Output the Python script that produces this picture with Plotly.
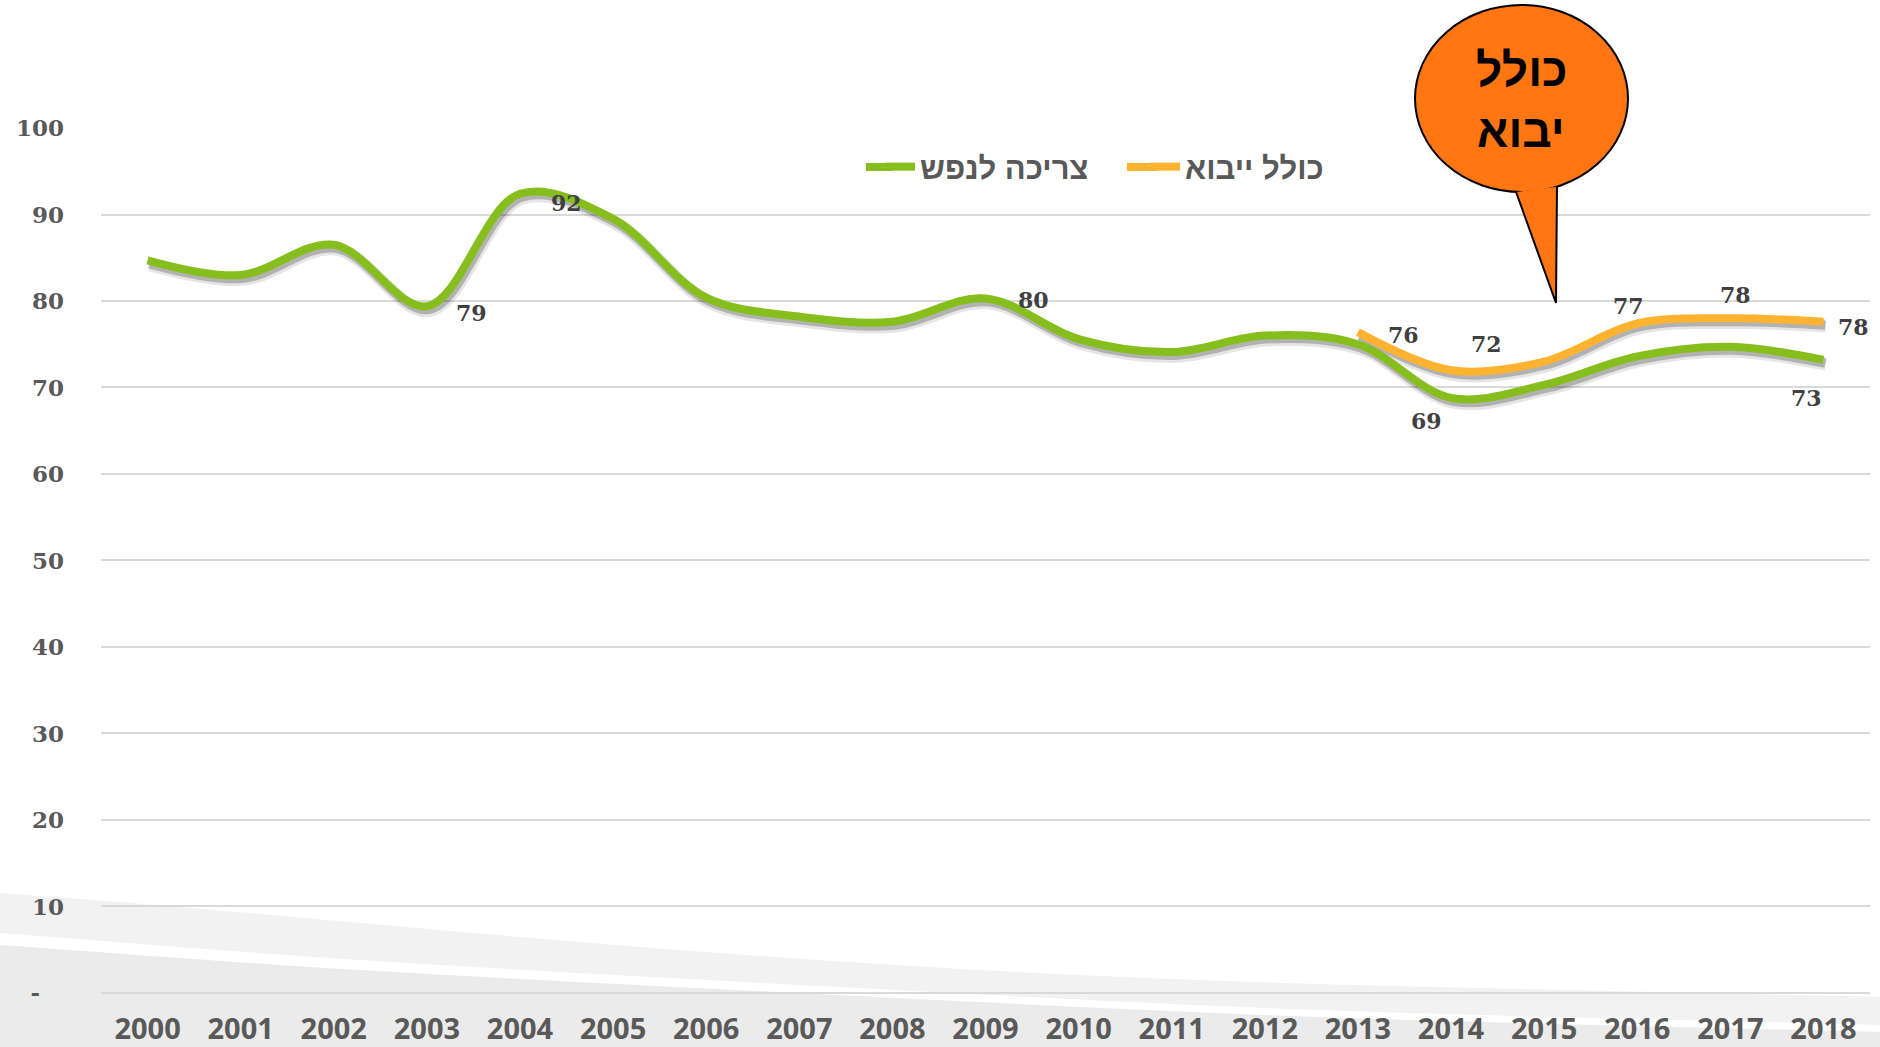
import numpy as np
import plotly.graph_objects as go

# ---------------- data ----------------
years = list(range(2000, 2019))
per_capita = [84.7, 83.0, 86.5, 79.4, 92.4, 89.5, 80.4, 78.2, 77.6, 80.3,
              75.6, 74.1, 76.0, 75.0, 68.8, 70.3, 73.6, 74.7, 73.2]
incl_years = list(range(2013, 2019))
incl_import = [76.4, 72.0, 73.0, 77.4, 78.0, 77.6]

name_green = "צריכה לנפש"
name_orange = "כולל ייבוא"
callout_lines = ["כולל", "יבוא"]

y_tickvals = list(range(0, 101, 10))
y_ticktext = ["-\u00a0\u00a0\u00a0"] + [str(v) for v in y_tickvals[1:]]

# which points are labelled, with label offsets (px)
green_labels = {2003: (45, -7), 2004: (47, -9), 2009: (48, -2), 2014: (-25, -23), 2018: (-17, -38)}
orange_labels = {2013: (46, -3), 2014: (35, 26), 2016: (-9, 17), 2017: (5, 23), 2018: (30, -5)}

GREEN = "#86BE1E"
ORANGE = "#FDB230"
CALLOUT = "#FF7612"

W, H = 1880, 1047
ML, MR, MT, MB = 101, 10, 128, 53


def px(x):
    return (x - ML) / (W - ML - MR)


def py(y):
    return (H - MB - y) / (H - MT - MB)


def smooth_path(points, bottom=1060, left=-10, right=1895):
    pts = np.array(points, dtype=float)
    P = np.vstack([pts[0] * 2 - pts[1], pts, pts[-1] * 2 - pts[-2]])
    out = []
    for i in range(1, len(P) - 2):
        p0, p1, p2, p3 = P[i - 1], P[i], P[i + 1], P[i + 2]
        for t in np.linspace(0, 1, 12, endpoint=False):
            t2, t3 = t * t, t * t * t
            pt = 0.5 * ((2 * p1) + (-p0 + p2) * t + (2 * p0 - 5 * p1 + 4 * p2 - p3) * t2 + (-p0 + 3 * p1 - 3 * p2 + p3) * t3)
            out.append(pt)
    out.append(P[-2])
    d = "M {:.5f},{:.5f} ".format(px(left), py(out[0][1]))
    for p in out:
        d += "L {:.5f},{:.5f} ".format(px(p[0]), py(p[1]))
    d += "L {:.5f},{:.5f} ".format(px(right), py(out[-1][1]))
    d += "L {:.5f},{:.5f} L {:.5f},{:.5f} Z".format(px(right), py(bottom), px(left), py(bottom))
    return d


fig = go.Figure()

# soft drop shadows under the lines
for xs, ys in [(years, per_capita), (incl_years, incl_import)]:
    fig.add_trace(go.Scatter(x=[v + 0.025 for v in xs], y=[v - 0.5 for v in ys], mode="lines",
                             line=dict(color="rgba(0,0,0,0.10)", width=13, shape="spline", smoothing=1.0),
                             showlegend=False, hoverinfo="skip"))
    fig.add_trace(go.Scatter(x=[v + 0.02 for v in xs], y=[v - 0.4 for v in ys], mode="lines",
                             line=dict(color="rgba(0,0,0,0.22)", width=9, shape="spline", smoothing=1.0),
                             showlegend=False, hoverinfo="skip"))

fig.add_trace(go.Scatter(x=years, y=per_capita, mode="lines", name=name_green,
                         line=dict(color=GREEN, width=8, shape="spline", smoothing=1.0)))
fig.add_trace(go.Scatter(x=incl_years, y=incl_import, mode="lines", name=name_orange,
                         line=dict(color=ORANGE, width=8, shape="spline", smoothing=1.0)))

annotations = []
label_font = dict(family="DejaVu Serif", size=22, color="#404040", weight="bold")
for yr, (dx, dy) in green_labels.items():
    v = per_capita[years.index(yr)]
    annotations.append(dict(x=yr, y=v, xref="x", yref="y", text=str(int(round(v))), showarrow=False,
                            xshift=dx, yshift=dy, font=label_font))
for yr, (dx, dy) in orange_labels.items():
    v = incl_import[incl_years.index(yr)]
    annotations.append(dict(x=yr, y=v, xref="x", yref="y", text=str(int(round(v))), showarrow=False,
                            xshift=dx, yshift=dy, font=label_font))

# callout text
for line_text, ypix in zip(callout_lines, [70, 131]):
    annotations.append(dict(x=px(1521), y=py(ypix), xref="paper", yref="paper", text=line_text,
                            showarrow=False, xanchor="center", yanchor="middle",
                            font=dict(family="Liberation Sans", size=46, color="#000000", weight="bold")))

shapes = [
    dict(type="path", xref="paper", yref="paper", layer="below", line=dict(width=0), fillcolor="#F2F2F2",
         path=smooth_path([(0, 893), (180, 907), (719, 953), (1199, 980), (1880, 997)])),
    dict(type="path", xref="paper", yref="paper", layer="below", line=dict(width=0), fillcolor="#FFFFFF",
         path=smooth_path([(0, 933), (360, 960), (839, 987), (1319, 1010), (1880, 1025)])),
    dict(type="path", xref="paper", yref="paper", layer="below", line=dict(width=0), fillcolor="#EBEBEB",
         path=smooth_path([(0, 945), (360, 970), (839, 995), (1319, 1017), (1880, 1032)])),
    # longer legend swatches (extend plotly's short legend lines to the left)
    dict(type="line", xref="paper", yref="paper", layer="above",
         x0=px(866), x1=px(892), y0=py(167), y1=py(167), line=dict(color=GREEN, width=8)),
    dict(type="line", xref="paper", yref="paper", layer="above",
         x0=px(1127), x1=px(1156), y0=py(167), y1=py(167), line=dict(color=ORANGE, width=8)),
    # callout ellipse
    dict(type="circle", xref="paper", yref="paper", layer="above",
         x0=px(1415), x1=px(1628), y0=py(192), y1=py(5),
         fillcolor=CALLOUT, line=dict(color="#000000", width=2)),
    # callout tail
    dict(type="path", xref="paper", yref="paper", layer="above", fillcolor=CALLOUT,
         line=dict(color="#000000", width=2),
         path="M {:.5f},{:.5f} L {:.5f},{:.5f} L {:.5f},{:.5f}".format(
             px(1516), py(191.9), px(1556), py(303), px(1557), py(186.7))),
]

fig.update_layout(
    width=W, height=H,
    margin=dict(l=ML, r=MR, t=MT, b=MB, pad=0, autoexpand=False),
    paper_bgcolor="#FFFFFF", plot_bgcolor="rgba(0,0,0,0)",
    shapes=shapes, annotations=annotations,
    legend=dict(orientation="h", x=px(880), y=py(167), xanchor="left", yanchor="middle",
                bgcolor="rgba(0,0,0,0)", entrywidth=220, entrywidthmode="pixels",
                font=dict(family="Liberation Sans", size=31, color="#595959", weight="bold")),
    xaxis=dict(range=[1999.5, 2018.5], tickvals=years, ticktext=[str(y) for y in years],
               showgrid=False, zeroline=False, showline=False, ticks="",
               ticklabelstandoff=15,
               tickfont=dict(family="Open Sans", size=29, color="#595959", weight="bold")),
    yaxis=dict(range=[-0.12, 100], tickvals=y_tickvals, ticktext=y_ticktext,
               showgrid=True, gridcolor="#D9D9D9", gridwidth=1.6, zeroline=False, showline=False,
               ticks="", ticklabelstandoff=36,
               tickfont=dict(family="DejaVu Serif", size=23, color="#595959", weight="bold")),
    hovermode=False,
)

fig.write_html("out.html", config={"displayModeBar": False},
               post_script="document.body.style.margin='0';document.body.style.overflow='hidden';")
